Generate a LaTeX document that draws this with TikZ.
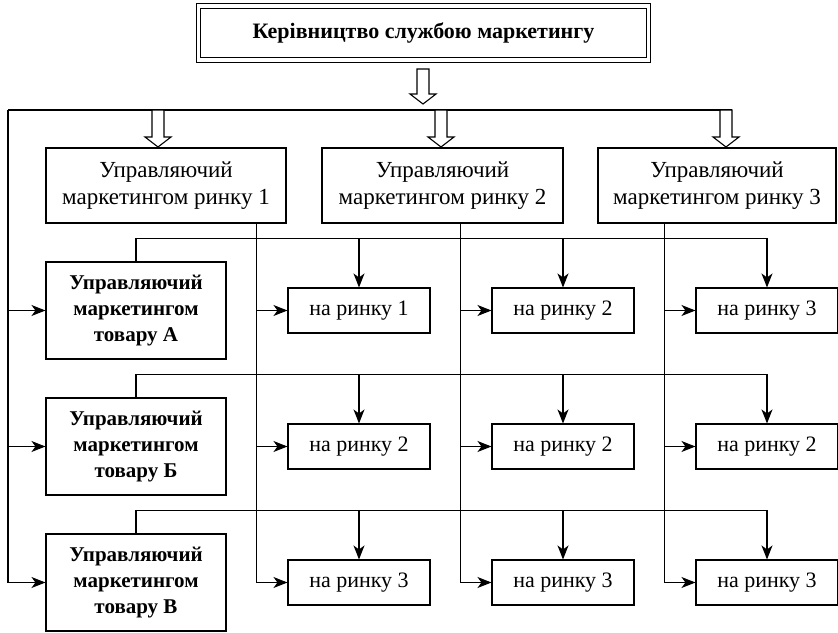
\documentclass[tikz,border=0pt]{standalone}
\usepackage{fontspec}
\setmainfont{Liberation Serif}
\usetikzlibrary{arrows.meta,calc}

\newcommand{\hollowarrow}[2]{%
  \draw[fill=white] let \p1=(#1), \p2=(#2) in
    (\x1-6pt,\y1) -- (\x1-6pt,\y2+10pt) -- (\x1-13pt,\y2+10pt) -- (\x1,\y2)
    -- (\x1+13pt,\y2+10pt) -- (\x1+6pt,\y2+10pt) -- (\x1+6pt,\y1) -- cycle;}

\begin{document}
\begin{tikzpicture}[x=1pt, y=-1pt, line width=1.1pt,
  >={Stealth[length=14pt,width=11pt,inset=4pt]},
  every node/.style={draw, align=center, inner sep=0pt},
  mgr/.style={minimum height=75pt, font=\fontsize{23}{27}\selectfont},
  prod/.style={minimum width=180pt, minimum height=97pt,
    font=\bfseries\fontsize{21}{26}\selectfont},
  cell/.style={minimum width=142pt, minimum height=45pt,
    font=\fontsize{22}{26}\selectfont}]
  \useasboundingbox (0,0) rectangle (838,632);

  \node[double, double distance=3.5pt, line width=0.8pt, minimum width=450pt,
    minimum height=54pt, font=\bfseries\fontsize{22}{26}\selectfont]
    (top) at (423.5,33) {Керівництво службою маркетингу};

  \node[mgr, minimum width=240pt] (m1) at (166,185.5) {Управляючий\\маркетингом ринку 1};
  \node[mgr, minimum width=241pt] (m2) at (442.5,185.5) {Управляючий\\маркетингом ринку 2};
  \node[mgr, minimum width=238pt] (m3) at (717,185.5) {Управляючий\\маркетингом ринку 3};

  \foreach \r/\y/\t in {A/310.5/А, B/446.5/Б, C/582.5/В}
    \node[prod] (p\r) at (136,\y) {Управляючий\\маркетингом\\товару \t};

  \foreach \r/\y/\a/\b/\c in {A/310.5/1/2/3, B/446.5/2/2/2, C/582.5/3/3/3} {
    \node[cell] (c\r1) at (359,\y) {на ринку \a};
    \node[cell] (c\r2) at (563,\y) {на ринку \b};
    \node[cell] (c\r3) at (767,\y) {на ринку \c};
  }

  % top level
  \coordinate (busL) at (8,110);
  \coordinate (busR) at (732,110);
  \draw (busL) -- (busR);
  \coordinate (h0) at (423,69);
  \coordinate (h0e) at (423,104);
  \hollowarrow{h0}{h0e}
  \foreach \k in {158,441,726} {
    \coordinate (hs) at (\k,110);
    \coordinate (he) at (\k,147);
    \hollowarrow{hs}{he}
  }

  \draw[->] (busL) |- (pC.west);
  \foreach \r in {A,B} \draw[->] (busL |- p\r.west) -- (p\r.west);

  % market managers
  \foreach \j in {1,2,3} {
    \coordinate (t\j) at ($(cA\j.west)+(-31,0)$);
    \draw[->] (m\j.south -| t\j) |- (cC\j.west);
    \draw[->] (t\j) -- (cA\j.west);
    \draw[->] (cB\j.west -| t\j) -- (cB\j.west);
  }

  % product managers
  \foreach \r in {A,B,C} {
    \draw[->] (p\r.north) -- ++(0,-23) coordinate (h\r) -| (c\r3.north);
    \draw[->] (c\r1.north |- h\r) -- (c\r1.north);
    \draw[->] (c\r2.north |- h\r) -- (c\r2.north);
  }
\end{tikzpicture}
\end{document}
